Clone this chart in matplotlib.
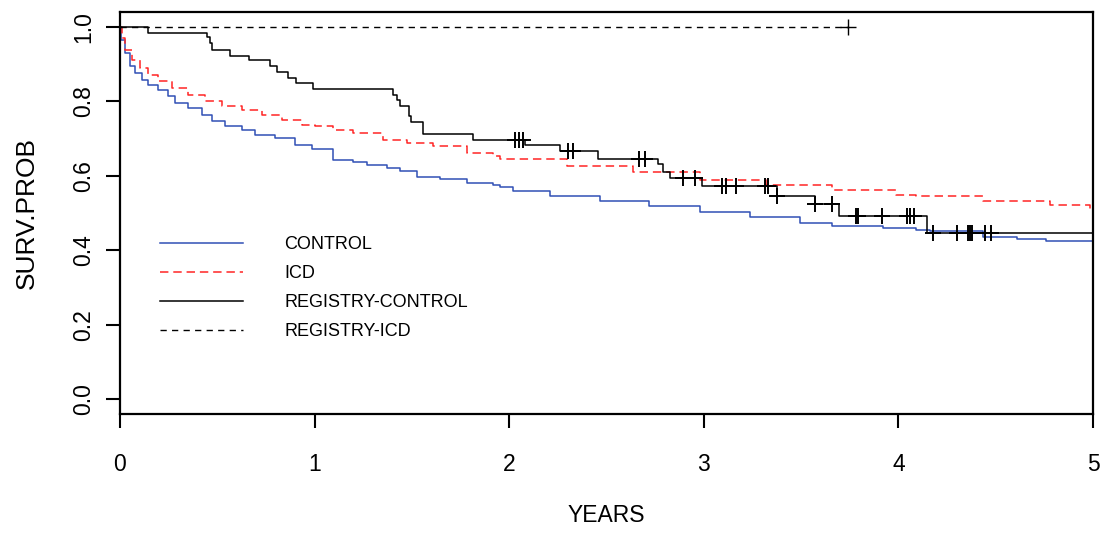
import numpy as np
import matplotlib
matplotlib.use("Agg")
import matplotlib.pyplot as plt

plt.rcParams['font.family'] = ['Liberation Sans', 'DejaVu Sans']

# Kaplan-Meier estimates (years, survival probability)
control_t = [0, 0.005, 0.026, 0.051, 0.077, 0.111, 0.146, 0.197, 0.248, 0.283, 0.351, 0.420,
             0.471, 0.540, 0.625, 0.694, 0.797, 0.899, 0.985, 1.096, 1.199, 1.268, 1.370,
             1.439, 1.525, 1.644, 1.782, 1.918, 1.953, 2.02, 2.21, 2.467, 2.72, 2.98, 3.237,
             3.494, 3.66, 3.92, 4.09, 4.16, 4.436, 4.61, 4.76, 5.0]
control_s = [1.0, 0.966, 0.930, 0.894, 0.876, 0.858, 0.845, 0.831, 0.813, 0.796, 0.782, 0.764,
             0.746, 0.733, 0.724, 0.710, 0.702, 0.684, 0.672, 0.643, 0.637, 0.630, 0.621,
             0.612, 0.598, 0.592, 0.581, 0.574, 0.570, 0.558, 0.545, 0.531, 0.518, 0.504, 0.489,
             0.473, 0.466, 0.460, 0.455, 0.451, 0.435, 0.431, 0.426, 0.426]

icd_t = [0, 0.009, 0.026, 0.060, 0.103, 0.146, 0.197, 0.266, 0.351, 0.437, 0.522, 0.625,
         0.728, 0.831, 0.934, 1.002, 1.096, 1.199, 1.353, 1.473, 1.61, 1.782, 1.918, 1.953,
         2.295, 2.637, 2.98, 3.32, 3.66, 3.99, 4.09, 4.436, 4.78, 4.985, 5.0]
icd_s = [1.0, 0.970, 0.939, 0.912, 0.890, 0.872, 0.854, 0.836, 0.818, 0.800, 0.787, 0.778,
         0.764, 0.751, 0.737, 0.733, 0.724, 0.715, 0.697, 0.688, 0.679, 0.661, 0.652, 0.645,
         0.625, 0.609, 0.590, 0.576, 0.561, 0.549, 0.547, 0.531, 0.522, 0.512, 0.512]

reg_control_t = [0, 0.142, 0.448, 0.462, 0.471, 0.565, 0.663, 0.771, 0.809, 0.865, 0.904,
                 0.994, 1.405, 1.422, 1.439, 1.487, 1.494, 1.555, 1.812, 2.081, 2.261, 2.458,
                 2.766, 2.792, 2.826, 2.989, 3.374, 3.571, 3.697, 4.149, 5.0]
reg_control_s = [1.0, 0.984, 0.973, 0.957, 0.939, 0.923, 0.910, 0.894, 0.878, 0.862, 0.849,
                 0.833, 0.818, 0.804, 0.788, 0.760, 0.744, 0.711, 0.695, 0.684, 0.666, 0.646,
                 0.632, 0.609, 0.594, 0.573, 0.547, 0.525, 0.491, 0.446, 0.446]
reg_control_cens = [2.03, 2.05, 2.07, 2.304, 2.326, 2.668, 2.70, 2.891, 2.955, 3.091, 3.112,
                    3.164, 3.315, 3.332, 3.374, 3.571, 3.657, 3.782, 3.794, 3.914, 4.046,
                    4.06, 4.08, 4.176, 4.303, 4.36, 4.368, 4.376, 4.445, 4.474]

reg_icd_t = [0, 3.743]
reg_icd_s = [1.0, 1.0]
reg_icd_cens = [3.743]


def surv_at(times, surv, t):
    # value of the step function right after time t
    idx = np.searchsorted(times, t, side='right') - 1
    return np.array(surv)[idx]


fig = plt.figure(figsize=(11.01, 5.33), dpi=100)
ax = fig.add_axes([120 / 1101, (533 - 414) / 533, 973 / 1101, 402 / 533])

blue = '#3050b5'
red = '#ff2424'

ax.plot(control_t, control_s, drawstyle='steps-post', color=blue, lw=1.1, label='CONTROL')
ax.plot(icd_t, icd_s, drawstyle='steps-post', color=red, lw=1.1, dashes=(5.5, 3.2), label='ICD')
ax.plot(reg_control_t, reg_control_s, drawstyle='steps-post', color='black', lw=1.1,
        label='REGISTRY-CONTROL')
ax.plot(reg_icd_t, reg_icd_s, drawstyle='steps-post', color='black', lw=1.0,
        dashes=(4.5, 3.8), label='REGISTRY-ICD')

# censoring marks
ax.plot(reg_control_cens, surv_at(reg_control_t, reg_control_s, reg_control_cens),
        ls='none', marker='+', ms=12, mew=1.4, color='black')
ax.plot(reg_icd_cens, surv_at(reg_icd_t, reg_icd_s, reg_icd_cens),
        ls='none', marker='+', ms=11, mew=1.0, color='black')

ax.set_xlim(0, 5)
ax.set_ylim(-0.04, 1.04)
ax.set_xticks([0, 1, 2, 3, 4, 5])
ax.set_xticklabels(['0', '1', '2', '3', '4', '5'], fontsize=16.5)
ax.set_yticks([0.0, 0.2, 0.4, 0.6, 0.8, 1.0])
ax.set_yticklabels(['0.0', '0.2', '0.4', '0.6', '0.8', '1.0'], fontsize=16.5,
                   rotation=90, va='center')
ax.tick_params(axis='x', length=10, width=1.5, pad=18)
ax.tick_params(axis='y', length=10, width=1.5, pad=8)
for sp in ax.spines.values():
    sp.set_linewidth(1.6)

ax.set_xlabel('YEARS', fontsize=16.5, labelpad=20)
ax.set_ylabel('SURV.PROB', fontsize=19, labelpad=24)

ax.legend(loc='upper left', bbox_to_anchor=(0.041, 0.442), frameon=False, fontsize=13,
          borderpad=0, borderaxespad=0, handlelength=4.6, handletextpad=2.3,
          labelspacing=0.66)

fig.savefig('out.png', dpi=100)
